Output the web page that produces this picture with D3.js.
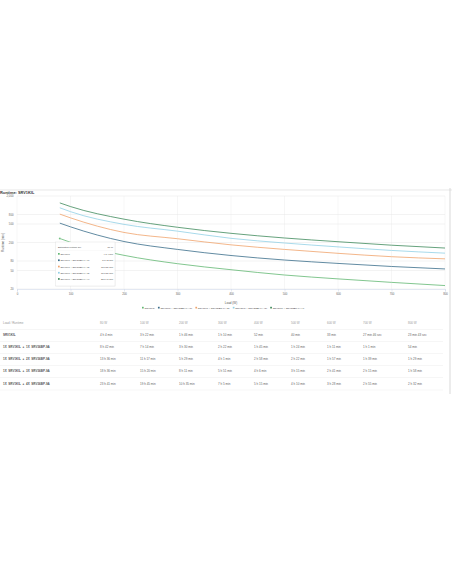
<!DOCTYPE html>
<html><head><meta charset="utf-8">
<script src="https://cdn.jsdelivr.net/npm/d3@7"></script>
<style>
html,body{margin:0;padding:0;background:#fff;}
svg{display:block;font-family:"Liberation Sans",Arial,sans-serif;}
</style>
</head><body>
<svg id="c" width="452" height="584"></svg>
<script>
// ---------- data ----------
const chartTitle = "Runtime: SRV1KIL";
const loads = [80, 100, 200, 300, 400, 500, 600, 700, 800];
const loadLabels = ["80 W", "100 W", "200 W", "300 W", "400 W", "500 W", "600 W", "700 W", "800 W"];
const seriesNames = [
  "SRV1KIL",
  "SRV1KIL + SRV36BP-9A (1)",
  "SRV1KIL + SRV36BP-9A (2)",
  "SRV1KIL + SRV36BP-9A (3)",
  "SRV1KIL + SRV36BP-9A (4)"
];
const tableLabels = [
  "SRV1KIL",
  "1X  SRV1KIL  +  1X  SRV36BP-9A",
  "1X  SRV1KIL  +  2X  SRV36BP-9A",
  "1X  SRV1KIL  +  3X  SRV36BP-9A",
  "1X  SRV1KIL  +  4X  SRV36BP-9A"
];
const runtime0 = ["4 h 4 min", "3 h 22 min", "1 h 46 min", "1 h 10 min", "52 min", "40 min", "33 min", "27 min 46 sec", "23 min 43 sec"];
const runtime1 = ["8 h 42 min", "7 h 14 min", "3 h 30 min", "2 h 22 min", "1 h 45 min", "1 h 24 min", "1 h 11 min", "1 h 1 min", "54 min"];
const runtime2 = ["13 h 36 min", "11 h 17 min", "5 h 29 min", "4 h 1 min", "2 h 58 min", "2 h 22 min", "1 h 57 min", "1 h 39 min", "1 h 29 min"];
const runtime3 = ["18 h 36 min", "15 h 20 min", "8 h 11 min", "5 h 51 min", "4 h 6 min", "3 h 15 min", "2 h 41 min", "2 h 15 min", "1 h 58 min"];
const runtime4 = ["23 h 41 min", "19 h 45 min", "10 h 35 min", "7 h 5 min", "5 h 15 min", "4 h 10 min", "3 h 28 min", "2 h 55 min", "2 h 32 min"];
const xTicks = [0, 100, 200, 300, 400, 500, 600, 700, 800];
const yTicks = [20, 50, 80, 200, 500, 800, 2000];
const colors = ["#62b872", "#3a6d8a", "#f0a36c", "#92d0e6", "#3f8a5c"];

// ---------- helpers ----------
function toMin(s) {
  let m = 0;
  const h = s.match(/(\d+)\s*h/); if (h) m += +h[1] * 60;
  const mi = s.match(/(\d+)\s*min/); if (mi) m += +mi[1];
  const se = s.match(/(\d+)\s*sec/); if (se) m += +se[1] / 60;
  return m;
}
const runtimes = [runtime0, runtime1, runtime2, runtime3, runtime4];
const series = runtimes.map((r, i) => ({
  name: seriesNames[i], color: colors[i],
  pts: r.map((s, j) => ({ load: loads[j], min: toMin(s) }))
}));

const svg = d3.select("#c");
const L = 17, R = 445, T = 196, B = 289;
const x = d3.scaleLinear().domain([0, 800]).range([L, R]);
const y = d3.scaleLog().domain([20, 2000]).range([B, T]);

// top separator & right border
svg.append("line").attr("x1", 0).attr("x2", 452).attr("y1", 190).attr("y2", 190)
  .attr("stroke", "#d8d8d8").attr("stroke-width", 0.6);
svg.append("line").attr("x1", 450).attr("x2", 450).attr("y1", 188).attr("y2", 394)
  .attr("stroke", "#cfcfcf").attr("stroke-width", 0.8);

// title
svg.append("text").attr("x", 0).attr("y", 194.2).text(chartTitle)
  .attr("font-size", 3.9).attr("font-weight", "bold").attr("fill", "#333");

// grid
const g = svg.append("g");
g.selectAll(".vg").data(xTicks).join("line")
  .attr("x1", d => x(d)).attr("x2", d => x(d)).attr("y1", T).attr("y2", B)
  .attr("stroke", "#ececec").attr("stroke-width", 0.5);
g.selectAll(".hg").data(yTicks).join("line")
  .attr("x1", L).attr("x2", R).attr("y1", d => y(d)).attr("y2", d => y(d))
  .attr("stroke", "#e6e6e6").attr("stroke-width", 0.5);

// axes
const xAxis = d3.axisBottom(x).tickValues(xTicks).tickSize(2.5).tickPadding(1.5)
  .tickFormat(d3.format("d"));
const gx = svg.append("g").attr("transform", `translate(0,${B})`).call(xAxis);
gx.select(".domain").attr("stroke", "#ccd6eb").attr("stroke-width", 0.5);
gx.selectAll(".tick line").attr("stroke", "#ccd6eb").attr("stroke-width", 0.5);
gx.selectAll("text").attr("font-size", 2.8).attr("fill", "#666").attr("font-family", "Liberation Sans, Arial, sans-serif");

const yAxis = d3.axisLeft(y).tickValues(yTicks).tickSize(0).tickPadding(3.5)
  .tickFormat(d3.format(","));
const gy = svg.append("g").attr("transform", `translate(${L},0)`).call(yAxis);
gy.select(".domain").remove();
gy.selectAll("text").attr("font-size", 2.8).attr("fill", "#666").attr("font-family", "Liberation Sans, Arial, sans-serif");

// axis titles
svg.append("text").attr("x", x(400)).attr("y", 304).attr("text-anchor", "middle")
  .attr("font-size", 3).attr("fill", "#555").text("Load (W)");
svg.append("text").attr("transform", `translate(4.2,${(T + B) / 2}) rotate(-90)`)
  .attr("text-anchor", "middle").attr("font-size", 3).attr("fill", "#555").text("Runtime (min)");

// lines
const line = d3.line().x(d => x(d.load)).y(d => y(d.min)).curve(d3.curveMonotoneX);
svg.append("g").selectAll("path").data(series).join("path")
  .attr("d", d => line(d.pts)).attr("fill", "none")
  .attr("stroke", d => d.color).attr("stroke-width", 0.8);

// hover marker
svg.append("circle").attr("cx", x(series[0].pts[0].load)).attr("cy", y(series[0].pts[0].min))
  .attr("r", 1).attr("fill", colors[0]).attr("stroke", "#fff").attr("stroke-width", 0.3);

// tooltip
const tt = svg.append("g");
const tx0 = 55.5, tx1 = 115, ty0 = 242, ty1 = 286;
tt.append("rect").attr("x", tx0 + 0.6).attr("y", ty0 + 0.6).attr("width", tx1 - tx0).attr("height", ty1 - ty0)
  .attr("fill", "#000").attr("opacity", 0.04);
tt.append("rect").attr("x", tx0).attr("y", ty0).attr("width", tx1 - tx0).attr("height", ty1 - ty0)
  .attr("fill", "#fff").attr("stroke", "#dcdcdc").attr("stroke-width", 0.4);
tt.append("text").attr("x", 58).attr("y", 247.8).attr("font-size", 2.4).attr("fill", "#444")
  .text("Estimated runtime for:");
tt.append("text").attr("x", 113).attr("y", 247.8).attr("font-size", 2.4).attr("fill", "#444")
  .attr("text-anchor", "end").text(loadLabels[0]);
const rowY = [254.8, 261.2, 267.5, 273.7, 279.9];
series.forEach((s, i) => {
  tt.append("rect").attr("x", 58).attr("y", rowY[i] - 1.8).attr("width", 1.7).attr("height", 1.7).attr("fill", s.color);
  tt.append("text").attr("x", 60.5).attr("y", rowY[i]).attr("font-size", 2.3).attr("fill", "#444").text(s.name);
  tt.append("text").attr("x", 113).attr("y", rowY[i]).attr("font-size", 2.3).attr("fill", "#444")
    .attr("text-anchor", "end").text(runtimes[i][0]);
});
tt.append("line").attr("x1", 58).attr("x2", 113).attr("y1", 250.5).attr("y2", 250.5)
  .attr("stroke", "#eee").attr("stroke-width", 0.3);

// legend
const lg = svg.append("g");
let lx = 142;
series.forEach((s, i) => {
  const it = lg.append("g").attr("transform", `translate(${lx},308.6)`);
  it.append("rect").attr("x", 0).attr("y", -1.8).attr("width", 1.7).attr("height", 1.7).attr("fill", s.color);
  const t = it.append("text").attr("x", 2.5).attr("y", 0).attr("font-size", 2.5).attr("fill", "#333").text(s.name);
  lx += 2.5 + t.node().getComputedTextLength() + 3.2;
});

// table
const colX = [100, 140, 179, 218, 254, 291, 327, 363, 408];
const hdrY = 324, rowTY = [336, 348, 360, 372, 384.5], sepY = [329.5, 341.5, 353.5, 365.5, 377.5, 390];
const tb = svg.append("g").attr("font-size", 3);
tb.append("text").attr("x", 3).attr("y", hdrY).attr("fill", "#999").text("Load / Runtime");
loadLabels.forEach((l, j) => tb.append("text").attr("x", colX[j]).attr("y", hdrY).attr("fill", "#999").text(l));
sepY.forEach(v => tb.append("line").attr("x1", 0).attr("x2", 443).attr("y1", v).attr("y2", v)
  .attr("stroke", "#ececec").attr("stroke-width", 0.5));
tableLabels.forEach((lab, i) => {
  tb.append("text").attr("x", 3).attr("y", rowTY[i]).attr("fill", "#555").attr("font-weight", "bold")
    .attr("xml:space", "preserve").style("white-space", "pre").text(lab);
  runtimes[i].forEach((v, j) => tb.append("text").attr("x", colX[j]).attr("y", rowTY[i]).attr("fill", "#666").text(v));
});
</script>
</body></html>
